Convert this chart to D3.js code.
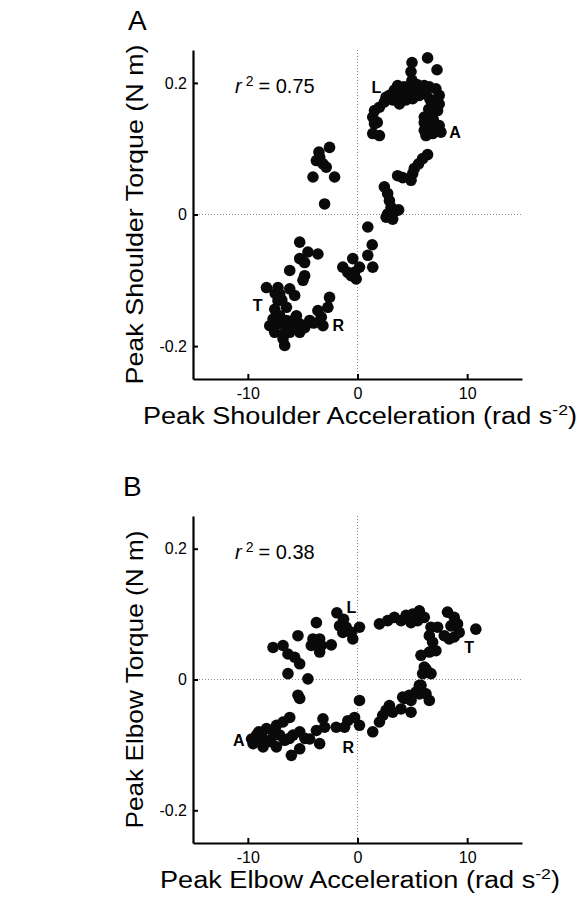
<!DOCTYPE html>
<html>
<head>
<meta charset="utf-8">
<script src="https://cdn.jsdelivr.net/npm/d3@7"></script>
<style>
    body { margin: 0; background: #fff; }
    svg { display: block; font-family: "Liberation Sans", Arial, sans-serif; }
</style>
</head>
<body>
<div id="chart"></div>
<script>
// Panel A: peak shoulder acceleration (rad s-2) vs peak shoulder torque (N m)
const shoulderAccel = [
    -2.55, -3.52, -3.75, -3.15, -2.85, -4.06, -2.09, -3.0, -3.45,
    6.39, 4.97, 7.25, 4.88, 4.97, 1.55, 1.39, 1.55, 1.39, 2.0,
    2.0, 2.45, 2.91, 3.36, 3.66, 4.27, 4.88, 5.48, 6.09, 6.55,
    7.15, 3.21, 3.82, 4.43, 5.03, 5.64, 6.25, 7.45, 7.45, 7.3,
    6.7, 6.55, 6.09, 6.09, 6.25, 6.85, 7.45, 7.61, 7.0, 6.09, 3.52, 4.12,
    5.0, 5.8, 6.6, 7.0, 6.5, 5.5, 4.6, 6.9, 2.6, 1.8,
    6.39, 5.94, 5.57, 5.18, 5.03, 4.88, 3.66, 4.12, 2.45, 2.75,
    2.91, 3.06, 3.75, 2.75, 3.21, 3.52, 2.61, 0.94, 1.34, 0.94,
    1.39, -0.43, -1.34, -0.88, -0.27, 0.18, -0.12, -0.57,
    -5.27, -4.52, -3.61, -5.27, -4.82, -6.18, -4.82, -4.97, -8.3, -7.25,
    -6.18, -7.09, -5.73, -7.25, -7.55, -6.48, -7.09, -8.0, -7.25, -6.48,
    -5.57, -5.27, -7.55, -6.79, -6.18, -5.27, -4.82, -4.36, -3.61, -3.3,
    -3.15, -2.55, -2.7, -6.79, -6.64, -7.7,
    -6.0, -6.5, -7.0, -5.8, -6.9, -7.5, -4.0
];
const shoulderTorque = [
    0.102, 0.095, 0.082, 0.077, 0.072, 0.057, 0.057, 0.016, 0.087,
    0.238, 0.231, 0.220, 0.217, 0.204, 0.158, 0.148, 0.138, 0.123, 0.120,
    0.163, 0.171, 0.181, 0.189, 0.196, 0.194, 0.196, 0.197, 0.196, 0.194,
    0.191, 0.174, 0.168, 0.174, 0.176, 0.181, 0.184, 0.181, 0.168, 0.158,
    0.156, 0.143, 0.140, 0.128, 0.120, 0.123, 0.135, 0.125, 0.133, 0.148, 0.181, 0.184,
    0.185, 0.188, 0.175, 0.160, 0.160, 0.190, 0.187, 0.145, 0.178, 0.140,
    0.091, 0.085, 0.077, 0.070, 0.062, 0.052, 0.059, 0.056, 0.042, 0.032,
    0.021, 0.011, 0.007, 0.001, -0.007, 0.006, -0.004, -0.019, -0.046, -0.062,
    -0.080, -0.067, -0.080, -0.088, -0.088, -0.080, -0.098, -0.093,
    -0.042, -0.057, -0.060, -0.067, -0.073, -0.085, -0.093, -0.100, -0.111, -0.111,
    -0.113, -0.121, -0.123, -0.131, -0.144, -0.141, -0.154, -0.169, -0.166, -0.161,
    -0.154, -0.166, -0.179, -0.182, -0.179, -0.179, -0.172, -0.161, -0.146, -0.156,
    -0.169, -0.126, -0.141, -0.189, -0.199, -0.159,
    -0.170, -0.175, -0.165, -0.160, -0.130, -0.120, -0.165
];

// Panel B: peak elbow acceleration (rad s-2) vs peak elbow torque (N m)
const elbowAccel = [
    -1.88, -1.27, -1.64, -1.03, -0.57, 0.18, -0.43, -1.34, -3.75, -5.43,
    -4.06, -3.45, -4.21, -3.3, -2.39, -3.45, -7.7, -6.79, -6.34, -5.73,
    -5.27, -6.34, -4.52, -5.43, -5.27, 0.18,
    2.0, 2.75, 3.36, 3.97, 4.43, 5.03, 5.64, 5.48, 4.88, 6.09,
    8.21, 8.82, 9.12, 9.27, 8.82, 8.36, 7.91, 7.3, 6.7, 6.55,
    6.85, 7.15, 6.55, 5.79, 8.52, 10.79, 6.09, 5.94, 6.39, 6.25,
    6.7, 5.64, 5.34, 4.73, 4.12, 2.91, 5.79, 5.64, 6.25, 6.55,
    4.88, 4.27, 4.88, 3.97, 3.21, 2.61, 2.3, 2.0, 1.39, 0.18,
    -0.27, -0.88, -1.18, -1.94, -3.0, -3.15, -3.75, -4.36, -3.45, -5.27,
    -6.03, -5.27, -6.18, -6.79, -7.39, -7.7, -8.3, -8.75, -9.21, -9.66,
    -9.52, -8.61, -7.39, -6.64, -5.88, -8.0, -7.09,
    -8.9, -7.9, -6.2, -9.0, -4.8
];
const elbowTorque = [
    0.102, 0.092, 0.082, 0.080, 0.072, 0.080, 0.062, 0.072, 0.087, 0.067,
    0.062, 0.062, 0.052, 0.052, 0.053, 0.042, 0.049, 0.052, 0.039, 0.034,
    0.024, 0.009, 0.001, -0.024, -0.029, -0.032,
    0.085, 0.090, 0.095, 0.090, 0.098, 0.100, 0.105, 0.090, 0.087, 0.095,
    0.103, 0.095, 0.085, 0.072, 0.065, 0.062, 0.067, 0.080, 0.080, 0.067,
    0.057, 0.044, 0.042, 0.037, 0.082, 0.077, 0.019, 0.009, 0.011, 0.016,
    0.009, -0.009, -0.019, -0.024, -0.027, -0.040, -0.009, -0.022, -0.022, -0.032,
    -0.032, -0.029, -0.050, -0.045, -0.050, -0.047, -0.055, -0.065, -0.080, -0.070,
    -0.058, -0.063, -0.073, -0.073, -0.073, -0.060, -0.078, -0.091, -0.098, -0.106,
    -0.116, -0.080, -0.058, -0.065, -0.070, -0.080, -0.075, -0.083, -0.085, -0.091,
    -0.098, -0.103, -0.103, -0.093, -0.085, -0.093, -0.085,
    -0.092, -0.095, -0.090, -0.080, -0.090
];

// Ticks shared by both panels
const xTicks = [-10, 0, 10];
const yTicks = [-0.2, 0, 0.2];

// Phase letters written next to the loops (anchor in data units)
const shoulderLabels = [
    { text: 'L', x: 1.27, y: 0.184 },
    { text: 'A', x: 8.36, y: 0.116 },
    { text: 'T', x: -9.55, y: -0.146 },
    { text: 'R', x: -2.27, y: -0.177 }
];
const elbowLabels = [
    { text: 'L', x: -1.0, y: 0.102 },
    { text: 'T', x: 9.73, y: 0.041 },
    { text: 'A', x: -11.36, y: -0.101 },
    { text: 'R', x: -1.36, y: -0.113 }
];

const W = 583, H = 901;
const svg = d3.select('#chart').append('svg')
    .attr('width', W)
    .attr('height', H);

function drawPanel(cfg) {
    const left = 193, right = 522;

    const x = d3.scaleLinear().domain([-15, 15]).range([left, right]);
    const y = d3.scaleLinear().domain([-0.25, 0.25]).range([cfg.bottom, cfg.top]);

    const g = svg.append('g');

    // Dotted zero lines
    g.append('line')
        .attr('x1', x(0)).attr('x2', x(0))
        .attr('y1', cfg.top).attr('y2', cfg.bottom)
        .attr('stroke', '#8a8a8a')
        .attr('stroke-width', 1)
        .attr('stroke-dasharray', '1,2');
    g.append('line')
        .attr('x1', left).attr('x2', right)
        .attr('y1', y(0)).attr('y2', y(0))
        .attr('stroke', '#8a8a8a')
        .attr('stroke-width', 1)
        .attr('stroke-dasharray', '1,2');

    // Points
    g.append('g')
        .selectAll('circle')
        .data(cfg.xs.map((v, i) => [v, cfg.ys[i]]))
        .enter()
        .append('circle')
        .attr('cx', d => x(d[0]))
        .attr('cy', d => y(d[1]))
        .attr('r', 5.8)
        .attr('fill', '#0a0a0a');

    // Axes, ticks pointing inward
    const fmt = d => d === 0 ? '0' : String(d);
    const xAxis = g.append('g')
        .attr('transform', `translate(0,${cfg.bottom})`)
        .call(d3.axisBottom(x).tickValues(xTicks).tickSizeInner(-5).tickSizeOuter(0).tickPadding(9).tickFormat(fmt));
    const yAxis = g.append('g')
        .attr('transform', `translate(${left},0)`)
        .call(d3.axisLeft(y).tickValues(yTicks).tickSizeInner(-5).tickSizeOuter(0).tickPadding(6).tickFormat(fmt));

    [xAxis, yAxis].forEach(ax => {
        ax.select('.domain').attr('stroke', '#000').attr('stroke-width', 2.2);
        ax.selectAll('.tick line').attr('stroke', '#000').attr('stroke-width', 2);
        ax.selectAll('.tick text')
            .attr('fill', '#000')
            .style('font-size', '16px')
            .style('font-family', '"Liberation Sans", Arial, sans-serif');
    });

    // r squared
    const r2 = g.append('text')
        .attr('x', 235)
        .attr('y', cfg.top + 43)
        .style('font-size', '20px')
        .attr('fill', '#000');
    r2.append('tspan').style('font-style', 'italic').text('r');
    r2.append('tspan').attr('dx', 4).attr('dy', -7).style('font-size', '14px').text('2');
    r2.append('tspan').attr('dx', 5).attr('dy', 7).text('= ' + cfg.r2);

    // Phase letters
    g.append('g')
        .selectAll('text')
        .data(cfg.labels)
        .enter()
        .append('text')
        .attr('x', d => x(d.x))
        .attr('y', d => y(d.y))
        .style('font-size', '16px')
        .style('font-weight', 'bold')
        .attr('fill', '#000')
        .text(d => d.text);

    // Panel letter
    g.append('text')
        .attr('x', cfg.letterX)
        .attr('y', cfg.top - 20)
        .style('font-size', '28px')
        .attr('fill', '#000')
        .text(cfg.letter);

    // X axis title with superscript
    const xt = g.append('text')
        .attr('x', cfg.xTitleX)
        .attr('y', cfg.bottom + 45)
        .attr('textLength', cfg.xTitleLen)
        .attr('lengthAdjust', 'spacingAndGlyphs')
        .style('font-size', '23px')
        .attr('fill', '#000');
    xt.append('tspan').text(cfg.xTitle);
    xt.append('tspan').attr('dy', -9).style('font-size', '15px').text('-2');
    xt.append('tspan').attr('dy', 9).text(')');

    // Y axis title
    g.append('text')
        .attr('transform', `translate(143,${(cfg.top + cfg.bottom) / 2}) rotate(-90)`)
        .attr('text-anchor', 'middle')
        .attr('textLength', cfg.yTitleLen)
        .attr('lengthAdjust', 'spacingAndGlyphs')
        .style('font-size', '24px')
        .attr('fill', '#000')
        .text(cfg.yTitle);
}

drawPanel({
    top: 50, bottom: 379,
    xs: shoulderAccel, ys: shoulderTorque,
    labels: shoulderLabels,
    r2: '0.75',
    letter: 'A', letterX: 128,
    xTitle: 'Peak Shoulder Acceleration (rad s', xTitleX: 143, xTitleLen: 434,
    yTitle: 'Peak Shoulder Torque (N m)', yTitleLen: 340
});

drawPanel({
    top: 516, bottom: 843,
    xs: elbowAccel, ys: elbowTorque,
    labels: elbowLabels,
    r2: '0.38',
    letter: 'B', letterX: 123,
    xTitle: 'Peak Elbow Acceleration (rad s', xTitleX: 160, xTitleLen: 400,
    yTitle: 'Peak Elbow Torque (N m)', yTitleLen: 298
});
</script>
</body>
</html>
